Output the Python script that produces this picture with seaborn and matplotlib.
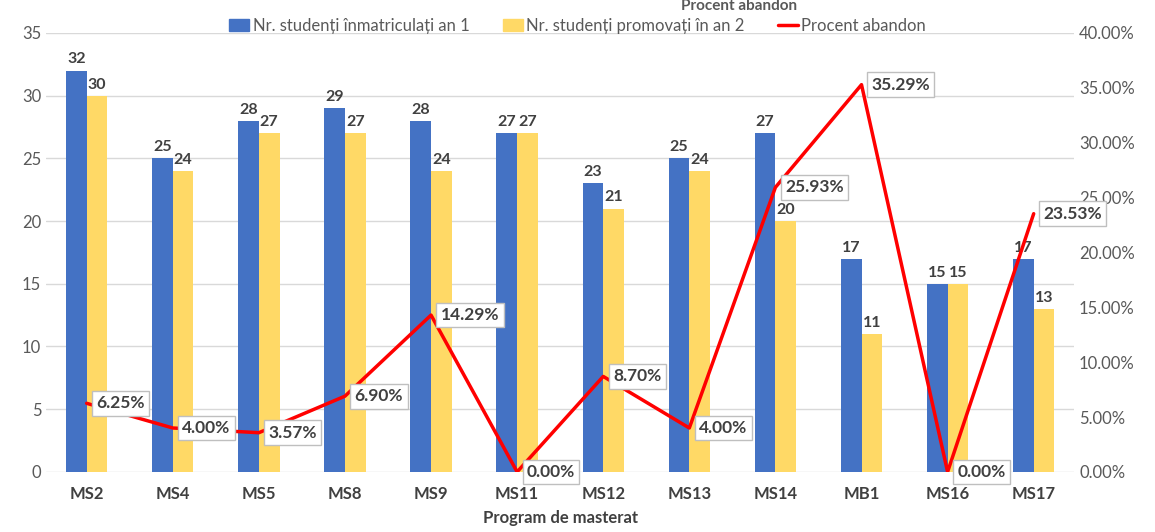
import numpy as np
import pandas as pd
import matplotlib
matplotlib.use('Agg')
import matplotlib.pyplot as plt
import seaborn as sns
from matplotlib.ticker import FuncFormatter
from matplotlib.patches import Patch
from matplotlib.lines import Line2D

programe = ['MS2', 'MS4', 'MS5', 'MS8', 'MS9', 'MS11', 'MS12', 'MS13', 'MS14', 'MB1', 'MS16', 'MS17']
inmatriculati = [32, 25, 28, 29, 28, 27, 23, 25, 27, 17, 15, 17]
promovati = [30, 24, 27, 27, 24, 27, 21, 24, 20, 11, 15, 13]
procent = [6.25, 4.00, 3.57, 6.90, 14.29, 0.00, 8.70, 4.00, 25.93, 35.29, 0.00, 23.53]

serie1 = 'Nr. studenți înmatriculați an 1'
serie2 = 'Nr. studenți promovați în an 2'

df = pd.DataFrame({
    'Program': programe * 2,
    'Valoare': inmatriculati + promovati,
    'Serie': [serie1] * len(programe) + [serie2] * len(programe),
})

sns.set_style('white')
plt.rcParams['font.family'] = ['Lato', 'DejaVu Sans']

fig = plt.figure(figsize=(11.55, 5.32), dpi=100)
ax = fig.add_axes([0.04, 0.113, 0.89, 0.825])

sns.barplot(data=df, x='Program', y='Valoare', hue='Serie',
            palette=['#4472C4', '#FFD966'], saturation=1, width=0.48,
            linewidth=0, ax=ax, legend=False)
for cont in ax.containers:
    ax.bar_label(cont, padding=3, fontsize=11.5, fontweight='bold', color='#404040')

ax.set_ylim(0, 35)
ax.set_yticks(range(0, 36, 5))
ax.set_xlim(-0.47, len(programe) - 0.53)
ax.yaxis.grid(True, color='#D9D9D9', linewidth=1)
ax.set_axisbelow(True)
for s in ax.spines.values():
    s.set_visible(False)
ax.tick_params(axis='y', colors='#595959', labelsize=12, length=0)
ax.tick_params(axis='x', colors='#404040', labelsize=12, length=0, pad=10)
for t in ax.get_xticklabels():
    t.set_fontweight('bold')
ax.set_xlabel('Program de masterat', fontsize=12, fontweight='bold', color='#404040', labelpad=6)
ax.set_ylabel('')

ax2 = ax.twinx()
x = np.arange(len(programe))
ax2.plot(x, procent, color='#FF0000', linewidth=2.5, label='Procent abandon')
ax2.set_ylim(0, 40)
ax2.set_yticks(range(0, 41, 5))
ax2.yaxis.set_major_formatter(FuncFormatter(lambda v, p: f'{v:.2f}%'))
ax2.tick_params(axis='y', colors='#595959', labelsize=12, length=0)
for s in ax2.spines.values():
    s.set_visible(False)
for xi, p in zip(x, procent):
    ax2.annotate(f'{p:.2f}%', (xi, p), xytext=(7, 0), textcoords='offset points',
                 ha='left', va='center', fontsize=12.5, fontweight='bold', color='#404040',
                 bbox=dict(boxstyle='square,pad=0.25', facecolor='white', edgecolor='#BFBFBF', linewidth=1))

handles = [Patch(color='#4472C4'), Patch(color='#FFD966'),
           Line2D([0], [0], color='#FF0000', linewidth=2.5)]
fig.legend(handles, [serie1, serie2, 'Procent abandon'], loc='center',
           bbox_to_anchor=(0.5, 0.952), ncol=3, frameon=False, fontsize=12,
           handlelength=1.2, handletextpad=0.2, columnspacing=2.0,
           labelcolor='#595959')

fig.text(0.64, 0.988, 'Procent abandon', ha='center', va='center',
         fontsize=11, fontweight='bold', color='#595959')

fig.savefig('out.png', dpi=100)
